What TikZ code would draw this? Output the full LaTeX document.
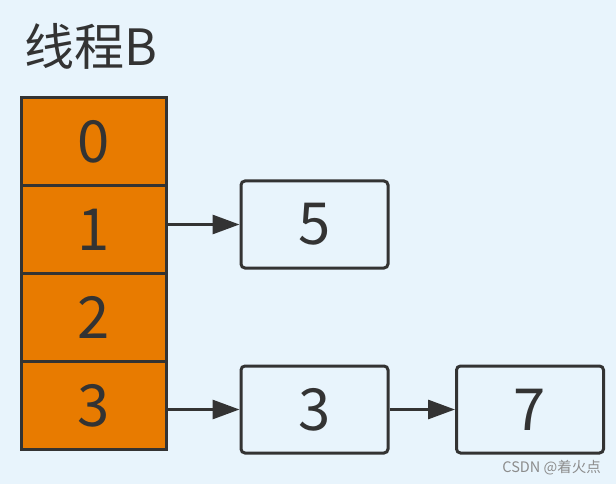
\documentclass[tikz,border=0pt]{standalone}
\usepackage{fontspec}
\setmainfont{Noto Sans CJK SC}
\usetikzlibrary{arrows.meta}
\definecolor{bg}{HTML}{E8F4FC}
\definecolor{cellorange}{HTML}{E87B00}
\definecolor{ink}{HTML}{333333}
\tikzset{
  cell/.style={draw=ink, line width=3pt, fill=cellorange, minimum width=145pt, minimum height=88pt, inner sep=0pt, font=\fontsize{58}{62}\selectfont, text=ink},
  valbox/.style={draw=ink, line width=3pt, fill=bg, rounded corners=4pt, minimum width=147pt, minimum height=87pt, inner sep=0pt, font=\fontsize{58}{62}\selectfont, text=ink},
  link/.style={draw=ink, line width=3pt, -{Triangle[length=27pt,width=19pt]}},
}
\begin{document}
\begin{tikzpicture}[x=1pt,y=-1pt]
\fill[bg] (0,0) rectangle (616,484);
\useasboundingbox (0,0) rectangle (616,484);
\node[anchor=base west, font=\fontsize{50}{54}\selectfont, text=ink, inner sep=0pt] (title) at (24,66) {线程B};
\node[cell] (c0) at (94,141.5) {0};
\node[cell] (c1) at (94,229.5) {1};
\node[cell] (c2) at (94,317.5) {2};
\node[cell] (c3) at (94,405.5) {3};
\node[valbox] (v5) at (314.5,224.5) {5};
\node[valbox] (v3) at (314.5,409.5) {3};
\node[valbox] (v7) at (530,409.5) {7};
\draw[link] (c1.east |- v5.west) -- (v5.west);
\draw[link] (c3.east |- v3.west) -- (v3.west);
\draw[link] (v3) -- (v7);
\node[anchor=base east, font=\fontsize{14.5}{16}\selectfont, text=black!45, inner sep=0pt] (wm) at (601,472) {CSDN @着火点};
\end{tikzpicture}
\end{document}
